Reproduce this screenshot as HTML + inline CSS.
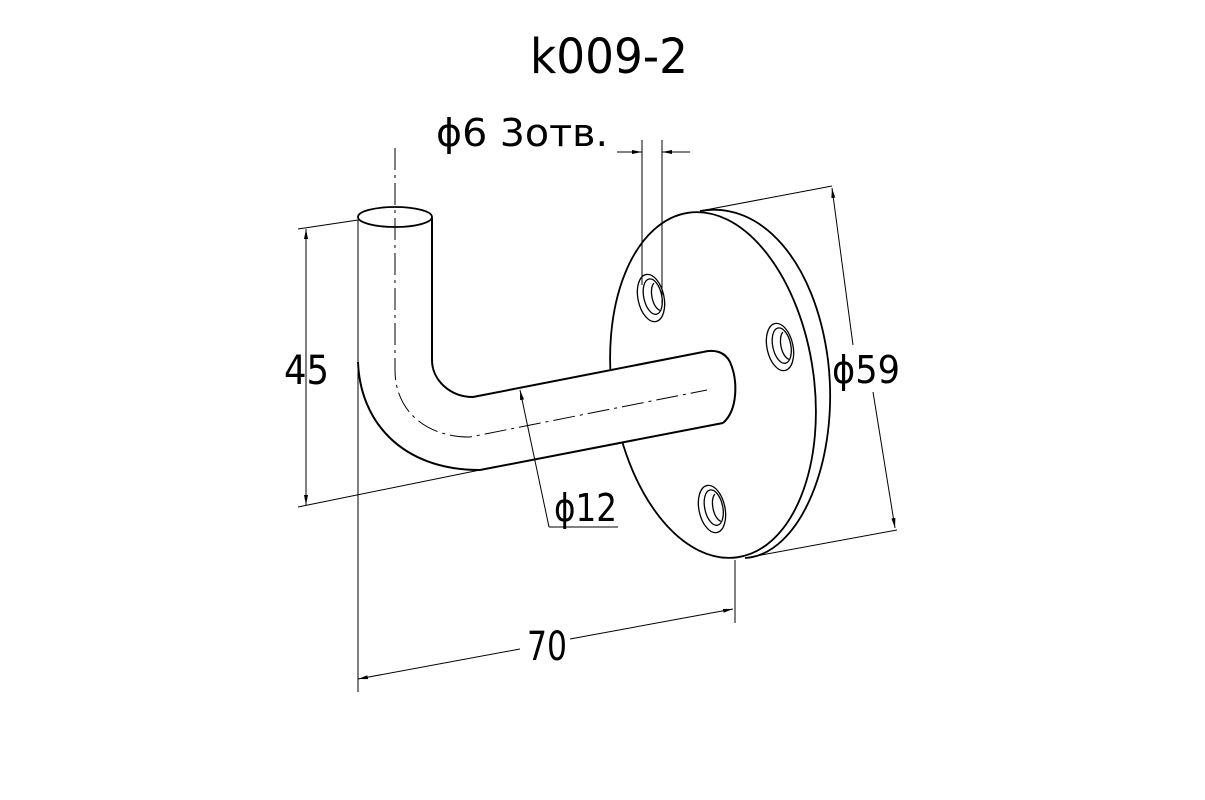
<!DOCTYPE html>
<html><head><meta charset="utf-8"><style>
html,body{margin:0;padding:0;background:#fff;}
svg{display:block;}
text{font-family:"DejaVu Sans Condensed","DejaVu Sans","Liberation Sans",sans-serif;fill:#000;}
</style></head><body>
<svg width="1205" height="800" viewBox="0 0 1205 800" xmlns="http://www.w3.org/2000/svg">
<defs>
<marker id="a" viewBox="0 0 10 4" refX="10" refY="2" markerWidth="10" markerHeight="4" orient="auto-start-reverse" markerUnits="userSpaceOnUse"><path d="M0,0 L10,2 L0,4 z" fill="#000"/></marker>
</defs>
<rect width="1205" height="800" fill="#fff"/>
<text x="530" y="73" font-size="48" textLength="158" lengthAdjust="spacingAndGlyphs">k009-2</text>
<text x="436" y="146" font-size="38" textLength="172" lengthAdjust="spacingAndGlyphs">ϕ6 3отв.</text>

<g fill="none" stroke="#000">
<path d="M700,211 C760,200 815,260 828,360 C840,460 800,555 745,558" stroke-width="1.8"/>
<ellipse cx="713" cy="385" rx="101" ry="174" transform="rotate(-8 713 385)" fill="#fff" stroke-width="1.8"/>
<g stroke-width="1.3">
<g transform="translate(651 298) rotate(-12)">
<ellipse cx="0" cy="0" rx="13" ry="24"/>
<ellipse cx="2" cy="-1" rx="9" ry="18"/>
<path d="M6,-14 C0,-10 -1,8 6,14"/>
</g>
<g transform="translate(780 347) rotate(-12)">
<ellipse cx="0" cy="0" rx="13" ry="24"/>
<ellipse cx="2" cy="-1" rx="9" ry="18"/>
<path d="M6,-14 C0,-10 -1,8 6,14"/>
</g>
<g transform="translate(712 509) rotate(-12)">
<ellipse cx="0" cy="0" rx="13" ry="24"/>
<ellipse cx="2" cy="-1" rx="9" ry="18"/>
<path d="M6,-14 C0,-10 -1,8 6,14"/>
</g>
</g>
<path d="M358,218 L358,362 C360,420 400,470 480,470 L723,423 C738,415 738,365 725,356 C718,350 712,350 703,352 L473,397 C450,397 432,380 432,360 L432,218 Z" fill="#fff" stroke="none"/>
<path d="M358,362 C360,420 400,470 480,470 L723,423" stroke-width="2"/>
<path d="M432,218 L432,360 C432,380 450,397 473,397 L703,352" stroke-width="2"/>
<path d="M703,352 C715,349 725,352 730,362 C738,380 738,410 723,423" stroke-width="2"/>
<ellipse cx="395" cy="217" rx="37" ry="10" stroke-width="1.8" fill="#fff"/>
<path d="M395,148 L395,370 C395,410 425,437 470,437 L707,390" stroke-width="1" stroke-dasharray="22,5,3,5"/>
<g stroke-width="1">
<line x1="358" y1="220" x2="358" y2="692"/>
<line x1="298" y1="229" x2="358" y2="220"/>
<line x1="298" y1="507" x2="480" y2="470"/>
<line x1="306" y1="229" x2="306" y2="505" marker-start="url(#a)" marker-end="url(#a)"/>
<line x1="735" y1="560" x2="735" y2="623"/>
<line x1="358" y1="679" x2="520" y2="649" marker-start="url(#a)"/>
<line x1="570" y1="639" x2="733" y2="609" marker-end="url(#a)"/>
<line x1="520" y1="390" x2="549" y2="527" marker-start="url(#a)"/>
<line x1="549" y1="527" x2="618" y2="527"/>
<line x1="700" y1="211" x2="832" y2="186"/>
<line x1="745" y1="558" x2="897" y2="530"/>
<line x1="832" y1="188" x2="853" y2="345" marker-start="url(#a)"/>
<line x1="873" y1="392" x2="895" y2="528" marker-end="url(#a)"/>
<line x1="642" y1="140" x2="642" y2="285"/>
<line x1="662" y1="140" x2="662" y2="305"/>
<line x1="617" y1="152" x2="642" y2="152" marker-end="url(#a)"/>
<line x1="690" y1="152" x2="662" y2="152" marker-end="url(#a)"/>
</g>
</g>
<text x="284" y="384" font-size="40" textLength="45" lengthAdjust="spacingAndGlyphs">45</text>
<text x="527" y="660" font-size="40" textLength="40" lengthAdjust="spacingAndGlyphs">70</text>
<text x="554" y="521" font-size="38" textLength="63" lengthAdjust="spacingAndGlyphs">ϕ12</text>
<text x="832" y="383" font-size="38" textLength="68" lengthAdjust="spacingAndGlyphs">ϕ59</text>
</svg>
</body></html>
